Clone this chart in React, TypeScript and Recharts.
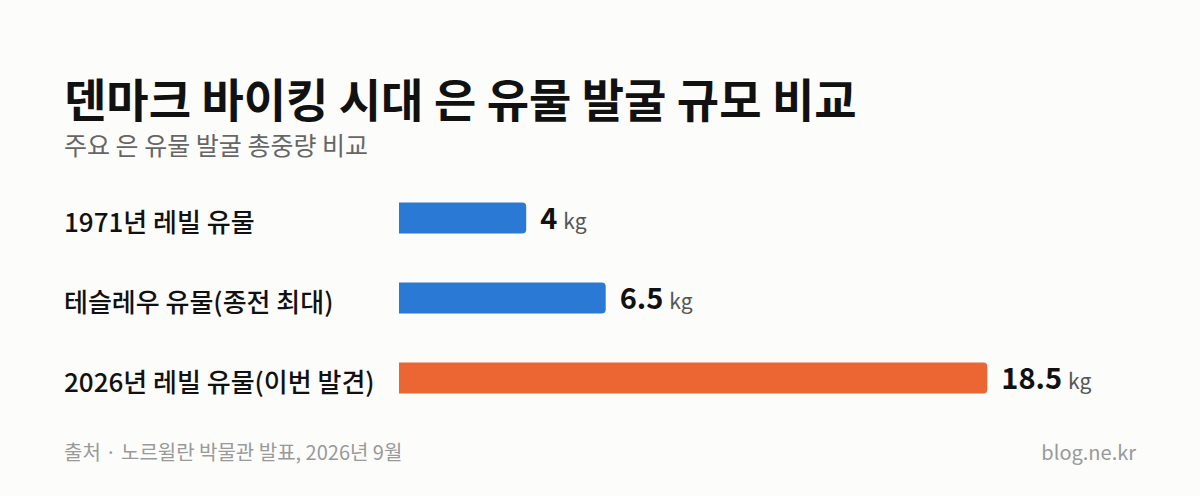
import { BarChart, Bar, XAxis, YAxis, Cell, LabelList } from "recharts";

const categories = ["1971년 레빌 유물", "테슬레우 유물(종전 최대)", "2026년 레빌 유물(이번 발견)"];
const weightsKg = [4, 6.5, 18.5];
const barColors = ["#2979d5", "#2979d5", "#ec6633"];

const rows = categories.map((name, i) => ({ name, kg: weightsKg[i] }));

const FONT = '"Noto Sans CJK KR", "Noto Sans", sans-serif';

function CategoryTick({ y, payload }: { y?: number; payload?: { value: string } }) {
  return (
    <text x={64} y={(y ?? 0) + 5} dy="0.35em" textAnchor="start" fontSize={26} fontWeight={500} fill="#111" fontFamily={FONT}>
      {payload?.value}
    </text>
  );
}

function ValueLabel(props: any) {
  const { x, y, width, height, value } = props;
  return (
    <text x={x + width + 14} y={y + height / 2 + 5} dy="0.35em" fontFamily={FONT}>
      <tspan fontSize={29} fontWeight={700} fill="#111">{value}</tspan>
      <tspan fontSize={21} fill="#555" dx={6}>kg</tspan>
    </text>
  );
}

export default function App() {
  return (
    <div style={{ position: "relative", width: 1200, height: 496, background: "#fcfcfa", fontFamily: FONT, overflow: "hidden" }}>
      <style>{`body{margin:0}`}</style>
      <div style={{ position: "absolute", left: 64, top: 74, fontSize: 46, fontWeight: 700, lineHeight: 1, color: "#111" }}>
        덴마크 바이킹 시대 은 유물 발굴 규모 비교
      </div>
      <div style={{ position: "absolute", left: 64, top: 132, fontSize: 25, lineHeight: 1, color: "#666" }}>
        주요 은 유물 발굴 총중량 비교
      </div>
      <BarChart
        width={1200}
        height={496}
        data={rows}
        layout="vertical"
        margin={{ top: 177.5, right: 165, bottom: 78.5, left: 0 }}
        barSize={31}
      >
        <XAxis type="number" domain={[0, 20]} hide />
        <YAxis type="category" dataKey="name" width={399} axisLine={false} tickLine={false} tick={<CategoryTick />} />
        <Bar dataKey="kg" radius={[0, 4, 4, 0]} isAnimationActive={false}>
          {rows.map((r, i) => (
            <Cell key={r.name} fill={barColors[i]} />
          ))}
          <LabelList dataKey="kg" content={<ValueLabel />} />
        </Bar>
      </BarChart>
      <div style={{ position: "absolute", left: 64, top: 442, fontSize: 20, lineHeight: 1, color: "#999" }}>
        출처 · 노르윌란 박물관 발표, 2026년 9월
      </div>
      <div style={{ position: "absolute", right: 64, top: 442, fontSize: 20, lineHeight: 1, color: "#999" }}>
        blog.ne.kr
      </div>
    </div>
  );
}
